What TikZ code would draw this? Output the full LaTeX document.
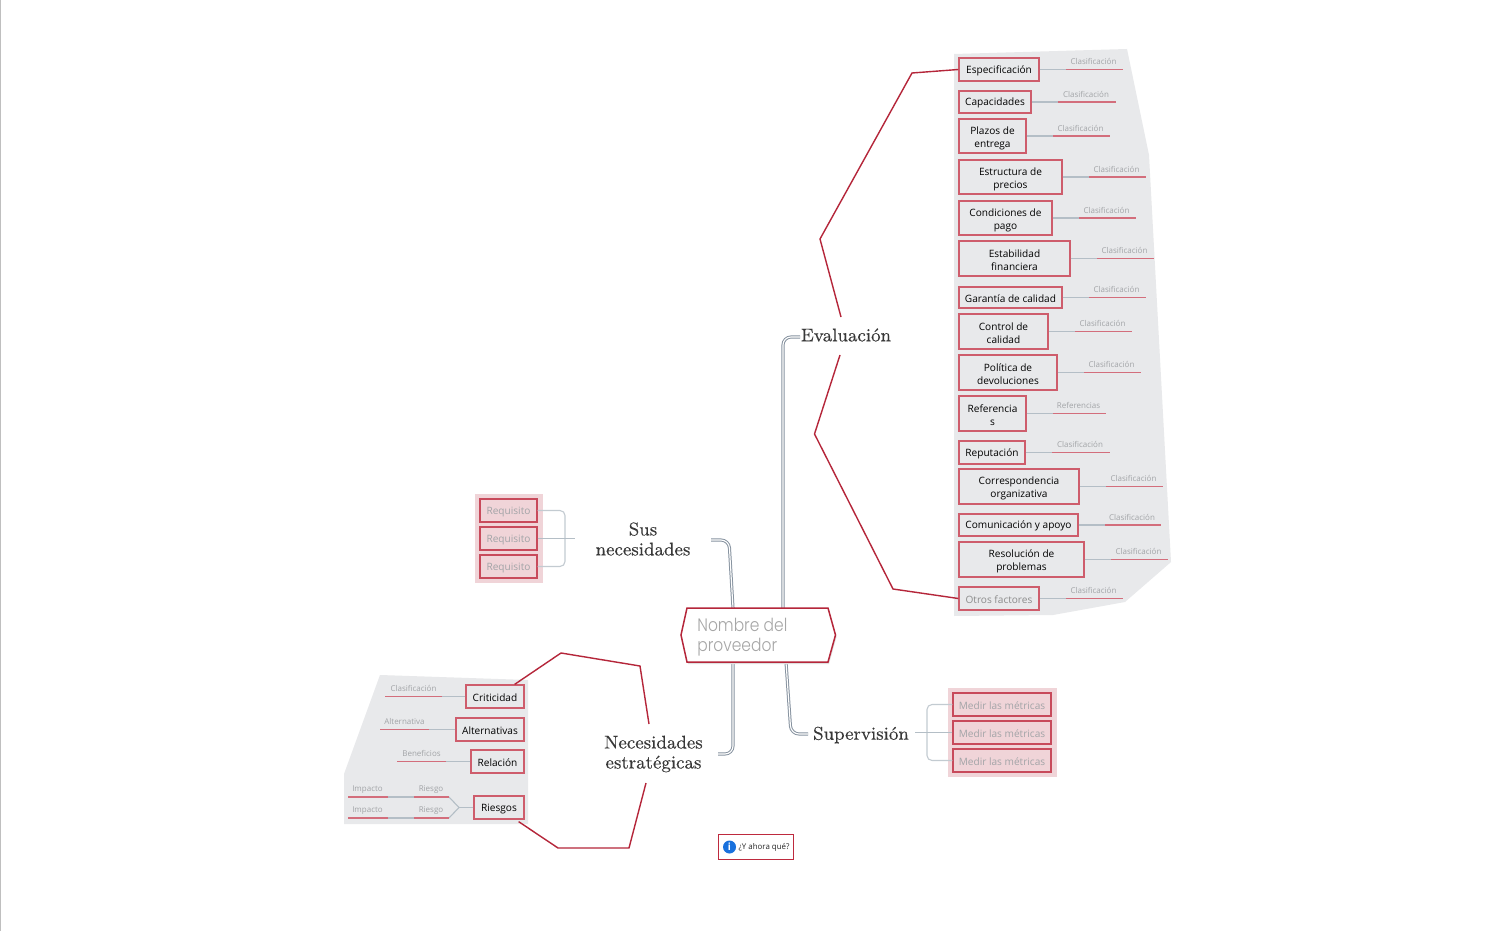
\documentclass[tikz,border=0pt]{standalone}
\usepackage{fontspec}
\setmainfont{Open Sans}
\newfontfamily\slabfont[FakeBold=0.2]{Latin Modern Roman}
\newfontfamily\titlefont[FakeStretch=0.86]{Poppins Light}
\usetikzlibrary{calc}
\definecolor{redm}{HTML}{BE2A3E}
\definecolor{darkred}{HTML}{B5263A}
\definecolor{greybg}{HTML}{E8E9EB}
\definecolor{pinkbg}{HTML}{F0D4D8}
\definecolor{linkgrey}{HTML}{B4BEC6}
\definecolor{labelgrey}{HTML}{A2A4A7}
\definecolor{branch}{HTML}{8793A0}
\newcommand{\tl}{\rule{0pt}{6pt}}
\tikzset{
  x=0.5pt,y=-0.5pt,
  leafbox/.style={draw=redm!76!white,line width=0.62pt,fill=greybg,inner sep=0pt,align=center,text=black,font=\fontsize{5.05}{6.5}\selectfont,execute at begin node={\rule{0pt}{5pt}}},
  reqbox/.style={draw=redm!85!white,line width=0.6pt,fill=pinkbg,inner sep=0pt,align=center,text=labelgrey,font=\fontsize{5.05}{6.5}\selectfont,execute at begin node={\rule{0pt}{5pt}}},
  smalllabel/.style={inner sep=0pt,text=labelgrey,font=\fontsize{4}{5}\selectfont},
  headtext/.style={inner sep=0pt,align=center,text=black!78,font=\slabfont\fontsize{9.2}{10}\selectfont},
  greylink/.style={draw=linkgrey,line width=0.55pt},
  redlink/.style={draw=redm!68!white,line width=0.55pt},
  bigred/.style={draw=darkred,line width=0.7pt},
  pipe/.style={draw=branch,double=white,double distance=0.55pt,line width=0.5pt,rounded corners=4pt},
  bracket/.style={draw=linkgrey!80!white,line width=0.55pt,rounded corners=2.5pt}
}
% name, text, x1, y0, y1, xmid, xend, label
\newcommand{\rleaf}[8]{%
  \pgfmathsetmacro{\cxx}{(959+#3)/2}\pgfmathsetmacro{\cyy}{(#4+#5)/2}\pgfmathsetmacro{\wdd}{(#3-959)/2}\pgfmathsetmacro{\htt}{(#5-#4)/2}
  \node[leafbox,minimum width=\wdd pt,minimum height=\htt pt] (#1) at (\cxx,\cyy) {#2};
  \coordinate (#1m) at (#6,\cyy);
  \coordinate (#1e) at (#7,\cyy);
  \draw[greylink] (#1.east) -- (#1m);
  \draw[redlink] (#1m) -- (#1e);
  \pgfmathsetmacro{\lxx}{(#6+#7)/2-1}
  \node[smalllabel] (#1l) at (\lxx,\cyy-8) {#8};
}
% name, text, x0, y0, y1, xmid, xend, label (to the left, right edge 524)
\newcommand{\lleaf}[8]{%
  \pgfmathsetmacro{\cxx}{(524+#3)/2}\pgfmathsetmacro{\cyy}{(#4+#5)/2}\pgfmathsetmacro{\wdd}{(524-#3)/2}\pgfmathsetmacro{\htt}{(#5-#4)/2}
  \node[leafbox,minimum width=\wdd pt,minimum height=\htt pt] (#1) at (\cxx,\cyy) {#2};
  \coordinate (#1m) at (#6,\cyy);
  \coordinate (#1e) at (#7,\cyy);
  \draw[greylink] (#1.west) -- (#1m);
  \draw[redlink] (#1m) -- (#1e);
  \pgfmathsetmacro{\lxx}{(#6+#7)/2}
  \node[smalllabel] (#1l) at (\lxx,\cyy-8) {#8};
}
\begin{document}
\begin{tikzpicture}
\useasboundingbox (0,0) rectangle (1506,931);
\fill[white] (0,0) rectangle (1506,931);
\draw[black!25,line width=0.4pt] (0.5,0) -- (0.5,931);
% grey backgrounds
\fill[greybg] (954,54) -- (1127,49) -- (1149,155) -- (1171,562) -- (1125,602) -- (1053,615) -- (954,616) -- cycle;
\fill[greybg] (380,675) -- (528,680) -- (528,824) -- (344,824) -- (344,774) -- cycle;
% pink backgrounds
\fill[pinkbg] (475,494) rectangle (543,583);
\fill[pinkbg] (948,688) rectangle (1057,777);
% text of the main branches
\node[headtext] (eval) at (846,335) {Evaluación};
\node[headtext] (sus) at (643,539) {Sus\\necesidades};
\node[headtext] (nec) at (653.5,754) {Necesidades\\estratégicas};
\node[headtext] (sup) at (861,735) {Supervisión};
% central shape
\coordinate (c1) at (687,608);
\coordinate (c2) at (828,608);
\coordinate (c3) at (835.5,635);
\coordinate (c4) at (828,662);
\coordinate (c5) at (687,662);
\coordinate (c6) at (681,635);
% pipes
\coordinate (pe1) at (800,337); \coordinate (pe2) at (783,337); \coordinate (pe3) at (783,608);
\draw[pipe] (pe1) -- (pe2) -- (pe3);
\coordinate (ps1) at (711,540); \coordinate (ps2) at (729,540); \coordinate (ps3) at (733,608);
\draw[pipe] (ps1) -- (ps2) -- (ps3);
\coordinate (pn1) at (718,754); \coordinate (pn2) at (733,754); \coordinate (pn3) at (733,662);
\draw[pipe] (pn1) -- (pn2) -- (pn3);
\coordinate (pu1) at (808,734); \coordinate (pu2) at (791,734); \coordinate (pu3) at (786,662);
\draw[pipe] (pu1) -- (pu2) -- (pu3);
\fill[black!12] ($(c1)+(1,2)$) -- ($(c2)+(1,2)$) -- ($(c3)+(1,2)$) -- ($(c4)+(1,2)$) -- ($(c5)+(1,2)$) -- ($(c6)+(1,2)$) -- cycle;
\draw[draw=darkred,line width=0.75pt,fill=white] (c1) -- (c2) -- (c3) -- (c4) -- (c5) -- (c6) -- cycle;
\node[inner sep=0pt,anchor=west,align=left,text=black!35,font=\titlefont\fontsize{9}{10}\selectfont] (title) at (697,637) {Nombre del\\proveedor};
% right leaves
\rleaf{a}{Especificación}{1039}{58}{81}{1066}{1123}{Clasificación}
\rleaf{b}{Capacidades}{1031}{91}{113}{1058}{1116}{Clasificación}
\rleaf{d}{\tl Plazos de\\entrega}{1026}{119}{153}{1053}{1110}{Clasificación}
\rleaf{f}{\tl Estructura de\\precios}{1062}{160}{194}{1089}{1146}{Clasificación}
\rleaf{g}{\tl Condiciones de\\pago}{1052}{201}{235}{1079}{1136}{Clasificación}
\rleaf{h}{\tl Estabilidad\\financiera}{1070}{241}{276}{1097}{1154}{Clasificación}
\rleaf{i}{Garantía de calidad}{1062}{287}{308}{1089}{1146}{Clasificación}
\rleaf{j}{\tl Control de\\calidad}{1048}{314}{349}{1075}{1132}{Clasificación}
\rleaf{k}{\tl Política de\\devoluciones}{1057}{355}{390}{1084}{1141}{Clasificación}
\rleaf{l}{\tl Referencia\\s}{1026}{396}{431}{1053}{1106}{Referencias}
\rleaf{m}{Reputación}{1025}{441}{464}{1052}{1110}{Clasificación}
\rleaf{n}{\tl Correspondencia\\organizativa}{1079}{469}{504}{1106}{1163}{Clasificación}
\rleaf{o}{Comunicación y apoyo}{1078}{514}{536}{1105}{1161}{Clasificación}
\rleaf{p}{\tl Resolución de\\problemas}{1084}{542}{577}{1111}{1168}{Clasificación}
\rleaf{q}{\textcolor{black!45}{Otros factores}}{1039}{587}{610}{1066}{1123}{Clasificación}
% big red outline, Evaluación
\coordinate (e1) at (912,73); \coordinate (e2) at (820,239); \coordinate (e3) at (841,317);
\draw[bigred] (a.west) -- (e1) -- (e2) -- (e3);
\coordinate (e4) at (840,355); \coordinate (e5) at (814.5,434); \coordinate (e6) at (893,589);
\draw[bigred] (e4) -- (e5) -- (e6) -- (q.west);
% left leaves
\lleaf{r}{Criticidad}{466}{685}{708}{442}{385}{Clasificación}
\lleaf{s}{Alternativas}{456}{718}{741}{429}{380}{Alternativa}
\lleaf{t}{Relación}{471}{750}{773}{446}{397}{Beneficios}
\lleaf{u}{Riesgos}{474}{796}{819}{459}{459}{}
% Riesgos fork
\coordinate (f1) at (449,797); \coordinate (f2) at (449,818);
\coordinate (f3) at (414,797); \coordinate (f4) at (414,818);
\coordinate (f5) at (388,797); \coordinate (f6) at (388,818);
\coordinate (f7) at (348,797); \coordinate (f8) at (348,818);
\draw[greylink] (um) -- (f1);
\draw[greylink] (um) -- (f2);
\draw[redlink] (f1) -- (f3);
\draw[redlink] (f2) -- (f4);
\draw[greylink] (f3) -- (f5);
\draw[greylink] (f4) -- (f6);
\draw[redlink] (f5) -- (f7);
\draw[redlink] (f6) -- (f8);
\node[smalllabel] (r1) at (431,789.5) {Riesgo};
\node[smalllabel] (r2) at (431,811) {Riesgo};
\node[smalllabel] (i1) at (367.5,789.5) {Impacto};
\node[smalllabel] (i2) at (367.5,811) {Impacto};
% big red outline, Necesidades
\coordinate (n1) at (561,653); \coordinate (n2) at (640,666); \coordinate (n3) at (649,724);
\draw[bigred] (r.north east) ++(-10,0) -- (n1) -- (n2) -- (n3);
\coordinate (n4) at (646,783); \coordinate (n5) at (629,848); \coordinate (n6) at (558,848);
\draw[bigred] (n4) -- (n5) -- (n6) -- ($(u.south east)+(-6,2)$);
% Requisitos
\node[reqbox,minimum width=28.5pt,minimum height=11.5pt] (q1) at (508.5,510.5) {Requisito};
\node[reqbox,minimum width=28.5pt,minimum height=11.5pt] (q2) at (508.5,538.5) {Requisito};
\node[reqbox,minimum width=28.5pt,minimum height=11.5pt] (q3) at (508.5,566.5) {Requisito};
\coordinate (qb) at (565,538.5); \coordinate (qe) at (575,538.5);
\draw[bracket] (q1.east) -| (qb) |- (q3.east);
\draw[greylink] (q2.east) -- (qe);
% Medir
\node[reqbox,minimum width=49pt,minimum height=11.5pt] (m1) at (1002,704.5) {Medir las métricas};
\node[reqbox,minimum width=49pt,minimum height=11.5pt] (m2) at (1002,732.5) {Medir las métricas};
\node[reqbox,minimum width=49pt,minimum height=11.5pt] (m3) at (1002,760.5) {Medir las métricas};
\coordinate (mb) at (927,732.5); \coordinate (me) at (915,732.5);
\draw[bracket] (m1.west) -| (mb) |- (m3.west);
\draw[greylink] (m2.west) -- (me);
% What now
\node[draw=redm,line width=0.7pt,fill=white,inner sep=0pt,minimum width=37.5pt,minimum height=12.5pt] (w) at (756,847) {};
\node[circle,fill=blue!55!cyan!85!black!90!white,inner sep=0pt,minimum size=6.5pt,text=white,font=\fontsize{5}{5}\bfseries\selectfont] (wi) at (729.5,847) {i};
\node[inner sep=0pt,text=black!85,font=\fontsize{3.95}{5}\selectfont] (wt) at (764,847) {¿Y ahora qué?};
\end{tikzpicture}
\end{document}
